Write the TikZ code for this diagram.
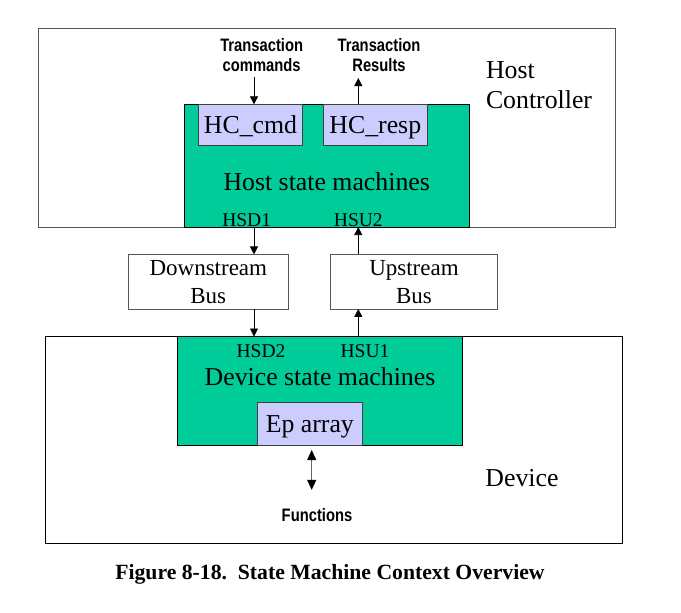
\documentclass[tikz,border=0pt]{standalone}
\usepackage{fontspec}
\setmainfont{Liberation Serif}
\newfontfamily\narrowsf[FakeStretch=0.82]{Liberation Sans}
\usepackage{tikz}
\definecolor{smg}{HTML}{00CC99}
\definecolor{bufl}{HTML}{CCCCFF}
\definecolor{edg}{HTML}{555555}
\usetikzlibrary{arrows.meta}

\begin{document}
\begin{tikzpicture}[x=1bp,y=-1bp,
	every node/.style={inner sep=0pt,outer sep=0pt},
	outer/.style={draw=edg,line width=0.8bp},
	smbox/.style={draw=black,fill=smg,line width=0.8bp},
	bufbox/.style={draw=black!75,fill=bufl,line width=0.8bp,text height=17bp,text depth=0bp,font=\fontsize{25.8bp}{30bp}\selectfont},
	busbox/.style={draw=edg,line width=0.8bp,align=center,font=\fontsize{23bp}{28bp}\selectfont},
	big/.style={font=\fontsize{25.8bp}{30bp}\selectfont},
	port/.style={anchor=base,font=\fontsize{19.5bp}{22bp}\selectfont},
	ext/.style={align=center,font=\narrowsf\bfseries\fontsize{18bp}{20bp}\selectfont},
	arr/.style={line width=0.8bp,-{Triangle[length=8bp,width=8bp]}},
	darr/.style={draw=black!60,line width=1bp,{Triangle[length=10bp,width=9bp,color=black]}-{Triangle[length=10bp,width=9bp,color=black]}}]
			\useasboundingbox (0,0) rectangle (681,613);

			\node[outer,minimum width=576.7bp,minimum height=199bp] (host) at (326.7,127.5) {};
			\node[outer,draw=black,minimum width=576.6bp,minimum height=206.5bp] (device) at (334,439.7) {};
			\node[smbox,minimum width=285.4bp,minimum height=122.7bp] (hostsm) at (327,165.7) {};
			\node[smbox,minimum width=284.6bp,minimum height=109.2bp] (devsm) at (320,391.1) {};

			\node[bufbox,minimum width=104.4bp,minimum height=40.7bp] (hccmd) at (250.5,124.7) {HC\_cmd};
			\node[bufbox,minimum width=104bp,minimum height=40.7bp] (hcresp) at (375.3,124.7) {HC\_resp};
			\node[bufbox,minimum width=105bp,minimum height=43bp] (ep) at (309.8,424.2) {Ep array};
			\node[busbox,minimum width=160bp,minimum height=54.5bp] (down) at (208.3,281.7) {Downstream\\Bus};
			\node[busbox,minimum width=166.6bp,minimum height=54.5bp] (up) at (414,281.7) {Upstream\\Bus};

			\node[big,align=left,anchor=north west] (hclbl) at (486,62) {Host\\Controller};
			\node[big,anchor=base] (hsmlbl) at (326.7,190.7) {Host state machines};
			\node[port] (hsd1) at (246.7,226.2) {HSD1};
			\node[port] (hsu2) at (358.3,226.2) {HSU2};
			\node[port] (hsd2) at (261,357.3) {HSD2};
			\node[port] (hsu1) at (365,357.3) {HSU1};
			\node[big,anchor=base] (dsmlbl) at (320,385) {Device state machines};
			\node[big,anchor=base] (devlbl) at (522,486.7) {Device};
			\node[ext,anchor=north] (tcmd) at (261.7,38.3) {Transaction\\commands};
			\node[ext,anchor=north] (tres) at (379,38.3) {Transaction\\Results};
			\node[ext,anchor=base] (func) at (317,521.7) {Functions};
			\node[anchor=base,font=\bfseries\fontsize{21.7bp}{24bp}\selectfont] (cap) at (330,579.3) {Figure 8-18.\ \ State Machine Context Overview};

			\coordinate (dn) at (254,0);
			\coordinate (upx) at (358.3,0);
			\coordinate (fx) at (311.7,0);
			\draw[arr,shorten <=5bp] (tcmd.south -| dn) -- (hccmd.north -| dn);
			\draw[arr,shorten >=6.5bp] (hcresp.north -| upx) -- (tres.south -| upx);
			\draw[arr] (hostsm.south -| dn) -- (down.north -| dn);
			\draw[arr] (up.north -| upx) -- (hostsm.south -| upx);
			\draw[arr] (down.south -| dn) -- (devsm.north -| dn);
			\draw[arr] (devsm.north -| upx) -- (up.south -| upx);
			\draw[darr,shorten <=4.3bp,shorten >=18.8bp] (ep.south -| fx) -- (func.north -| fx);
		\end{tikzpicture}
\end{document}
